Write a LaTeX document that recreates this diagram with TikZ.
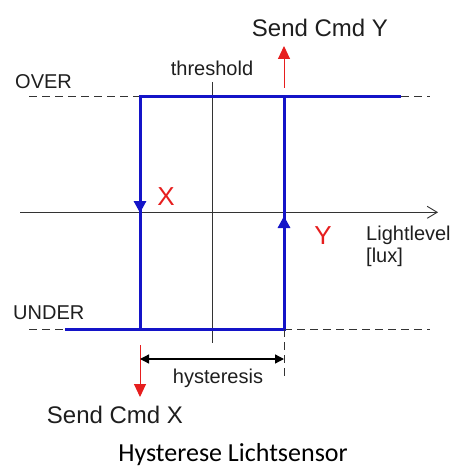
\documentclass[tikz,border=0pt]{standalone}
\usepackage{fontspec}
\setmainfont{Liberation Sans}
\newfontfamily\capfont{Carlito}
\usetikzlibrary{arrows.meta}
\definecolor{hblue}{RGB}{20,20,200}
\definecolor{hred}{RGB}{230,30,30}
\definecolor{htext}{RGB}{30,30,30}
\begin{document}
\begin{tikzpicture}[x=1pt,y=-1pt,
  lbl/.style={font=\fontsize{20}{22}\selectfont,text=htext,inner sep=0pt},
  big/.style={font=\fontsize{24}{26}\selectfont,text=htext,inner sep=0pt},
  redmark/.style={font=\fontsize{26}{28}\selectfont,text=hred,inner sep=0pt},
  curve/.style={hblue,line width=3pt},
  level/.style={black!80,line width=0.9pt,dash pattern=on 8pt off 5pt},
  thinline/.style={black!80,line width=0.9pt},
  redarr/.style={hred,line width=1pt,-{Triangle[length=13pt,width=12pt]}},
  bluetip/.style={-{Triangle[length=12pt,width=12pt]}}]
\useasboundingbox (0,0) rectangle (452,468);
% key coordinates
\coordinate (oL) at (29,96.7);
\coordinate (oA) at (140,96.7);
\coordinate (oB) at (284,96.7);
\coordinate (oE) at (401,96.7);
\coordinate (oR) at (430,96.7);
\coordinate (uL) at (29,329);
\coordinate (uS) at (65,329);
\coordinate (uA) at (140,329);
\coordinate (uB) at (284,329);
\coordinate (uR) at (430,329);
\coordinate (axL) at (20,212.3);
\coordinate (axR) at (438,212.3);
\coordinate (thT) at (212,82);
\coordinate (thB) at (212,343);
% levels
\draw[level] (oL) -- (oA);
\draw[level] (oE) -- (oR);
\draw[level] (uL) -- (uS);
\draw[level] (uB) -- (uR);
% axis and threshold
\draw[thinline,-{Straight Barb[length=10pt,width=12pt]}] (axL) -- (axR);
\draw[thinline] (thT) -- (thB);
% hysteresis curve
\draw[curve] (oE) -- (oA) -- (uA);
\draw[curve] (uS) -- (uB) -- (oB);
\draw[hblue,line width=3pt,bluetip] (140,190) -- (140,213);
\draw[hblue,line width=3pt,bluetip] (284,240) -- (284,216);
% labels
\node[lbl,anchor=west] (over) at (15,82) {OVER};
\node[lbl,anchor=west] (under) at (13,313) {UNDER};
\node[lbl] (thr) at (212,68) {threshold};
\node[lbl,anchor=west,align=left] (ll) at (366,246) {Lightlevel\\{[lux]}};
\node[redmark] (xm) at (166,197) {X};
\node[redmark] (ym) at (323,236) {Y};
% send commands
\node[big] (sy) at (320,28) {Send Cmd Y};
\coordinate (syS) at (284,88);
\coordinate (syT) at (284,46);
\draw[redarr] (syS) -- (syT);
\node[big] (sx) at (115,415) {Send Cmd X};
\coordinate (sxS) at (140,345);
\coordinate (sxT) at (140,397);
\draw[redarr] (sxS) -- (sxT);
% hysteresis dimension
\coordinate (hA) at (140,359);
\coordinate (hB) at (284,359);
\draw[black,line width=1.3pt,{Triangle[length=9pt,width=9pt]}-{Triangle[length=9pt,width=9pt]}] (hA) -- (hB);
\draw[thinline,dash pattern=on 8pt off 5pt] (uB) -- (284,380);
\node[lbl] (hy) at (218,378) {hysteresis};
% caption
\node[font=\capfont\fontsize{26}{28}\selectfont,text=black,inner sep=0pt] (cap) at (233,455) {Hysterese Lichtsensor};
\end{tikzpicture}
\end{document}
